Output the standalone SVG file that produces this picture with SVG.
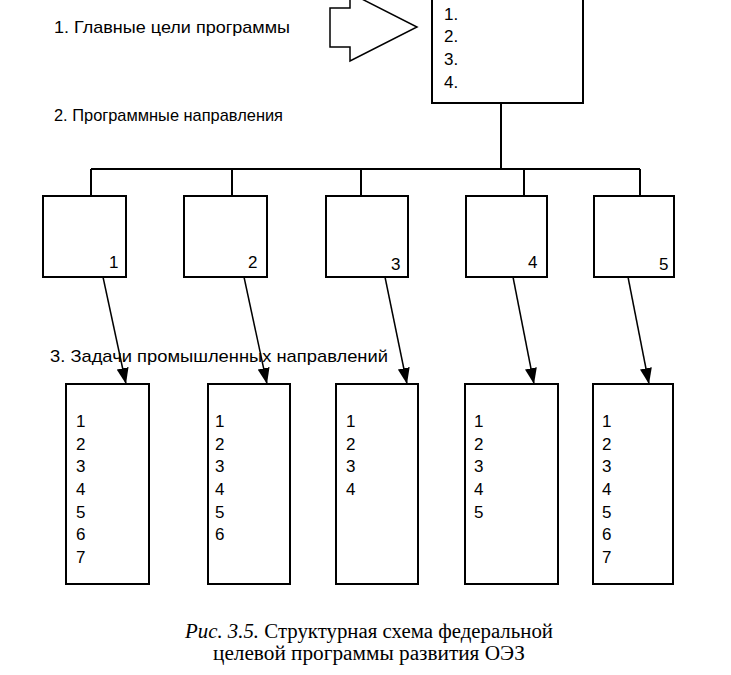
<svg xmlns="http://www.w3.org/2000/svg" width="731" height="675" viewBox="0 0 731 675">
<defs>
<style>
.box{fill:#fff;stroke:#000;stroke-width:2}
.ln{fill:none;stroke:#000;stroke-width:2}
.arr{fill:none;stroke:#000;stroke-width:1.5}
.t{font-family:"Liberation Sans",Arial,sans-serif;font-size:17px;fill:#000}
.h{font-family:"Liberation Sans",Arial,sans-serif;font-size:17px;fill:#000}
.cap{font-family:"Liberation Serif","Times New Roman",serif;font-size:20px;fill:#000}
</style>
<marker id="ah" viewBox="0 0 16 12" refX="16" refY="6" markerWidth="16" markerHeight="12" markerUnits="userSpaceOnUse" orient="auto">
<path d="M0,0 L16,6 L0,12 Z" fill="#000"/>
</marker>
</defs>
<rect width="731" height="675" fill="#fff"/>
<text class="h" x="54" y="33" textLength="236" lengthAdjust="spacingAndGlyphs">1. Главные цели программы</text>
<text class="h" x="54" y="121" textLength="229" lengthAdjust="spacingAndGlyphs">2. Программные направления</text>
<text class="h" x="50" y="362" textLength="338" lengthAdjust="spacingAndGlyphs">3. Задачи промышленных направлений</text>
<g id="bigarrow">
<path d="M330,8 L350,8 L350,-7 L417,27 L350,61 L350,47 L330,47 Z" fill="#fff" stroke="#000" stroke-width="1.5"/>
</g>
<g id="goals">
<rect class="box" x="432" y="-5" width="151" height="108"/>
<text class="t" x="444" y="20">1.</text>
<text class="t" x="444" y="42">2.</text>
<text class="t" x="444" y="65">3.</text>
<text class="t" x="444" y="88">4.</text>
</g>
<g id="connectors">
<path class="ln" d="M501,103 V169 M91,169 H640 M91,169 V196 M232,169 V196 M361,169 V196 M524,169 V196 M640,169 V196"/>
<line class="arr" x1="103" y1="277" x2="126" y2="384" marker-end="url(#ah)"/>
<line class="arr" x1="244" y1="277" x2="267" y2="384" marker-end="url(#ah)"/>
<line class="arr" x1="385" y1="277" x2="407" y2="384" marker-end="url(#ah)"/>
<line class="arr" x1="513" y1="277" x2="534" y2="384" marker-end="url(#ah)"/>
<line class="arr" x1="628" y1="277" x2="649" y2="384" marker-end="url(#ah)"/>
</g>
<g id="dir1"><rect class="box" x="43" y="196" width="83" height="81"/><text class="t" x="109" y="268">1</text></g>
<g id="dir2"><rect class="box" x="184" y="196" width="83" height="81"/><text class="t" x="248" y="268">2</text></g>
<g id="dir3"><rect class="box" x="326" y="196" width="82" height="81"/><text class="t" x="391" y="270">3</text></g>
<g id="dir4"><rect class="box" x="466" y="196" width="81" height="81"/><text class="t" x="528" y="268">4</text></g>
<g id="dir5"><rect class="box" x="594" y="196" width="80" height="81"/><text class="t" x="659" y="270">5</text></g>
<g id="tasks1"><rect class="box" x="66" y="384" width="83" height="200"/>
<text class="t" x="76" y="427">1</text><text class="t" x="76" y="450">2</text><text class="t" x="76" y="472">3</text><text class="t" x="76" y="495">4</text><text class="t" x="76" y="518">5</text><text class="t" x="76" y="540">6</text><text class="t" x="76" y="563">7</text></g>
<g id="tasks2"><rect class="box" x="208" y="384" width="82" height="200"/>
<text class="t" x="215" y="427">1</text><text class="t" x="215" y="450">2</text><text class="t" x="215" y="472">3</text><text class="t" x="215" y="495">4</text><text class="t" x="215" y="518">5</text><text class="t" x="215" y="540">6</text></g>
<g id="tasks3"><rect class="box" x="336" y="384" width="82" height="200"/>
<text class="t" x="346" y="427">1</text><text class="t" x="346" y="450">2</text><text class="t" x="346" y="472">3</text><text class="t" x="346" y="495">4</text></g>
<g id="tasks4"><rect class="box" x="465" y="384" width="93" height="200"/>
<text class="t" x="474" y="427">1</text><text class="t" x="474" y="450">2</text><text class="t" x="474" y="472">3</text><text class="t" x="474" y="495">4</text><text class="t" x="474" y="518">5</text></g>
<g id="tasks5"><rect class="box" x="593" y="384" width="80" height="200"/>
<text class="t" x="602" y="427">1</text><text class="t" x="602" y="450">2</text><text class="t" x="602" y="472">3</text><text class="t" x="602" y="495">4</text><text class="t" x="602" y="518">5</text><text class="t" x="602" y="540">6</text><text class="t" x="602" y="563">7</text></g>
<g id="caption">
<text class="cap" x="185" y="638" textLength="368" lengthAdjust="spacingAndGlyphs"><tspan font-style="italic">Рис. 3.5.</tspan> Структурная схема федеральной</text>
<text class="cap" x="213" y="660" textLength="312" lengthAdjust="spacingAndGlyphs">целевой программы развития ОЭЗ</text>
</g>
</svg>
